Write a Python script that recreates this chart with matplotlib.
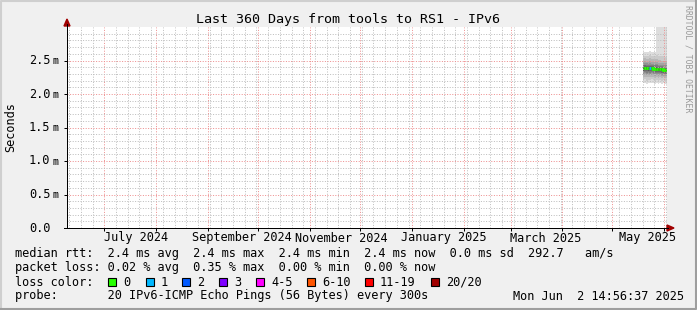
import matplotlib
matplotlib.use("Agg")
import matplotlib.pyplot as plt
import matplotlib.dates as mdates
import matplotlib.transforms as mtransforms
from matplotlib.lines import Line2D
from matplotlib.patches import Polygon, Rectangle
from datetime import datetime

W, H = 697, 310
plt.rcParams['font.family'] = ['DejaVu Sans Mono']

# time window of the graph
t_start = datetime(2024, 6, 8, 16, 0)
t_end = datetime(2025, 6, 2, 14, 56, 37)

# one row of 20 sorted pings (ms) per day
sample_days = ['2025-05-19', '2025-05-20', '2025-05-21', '2025-05-22', '2025-05-23',
               '2025-05-24', '2025-05-25', '2025-05-26', '2025-05-27', '2025-05-28',
               '2025-05-29', '2025-05-30', '2025-05-31', '2025-06-01', '2025-06-02']
pings = [
    [2.16, 2.21, 2.25, 2.28, 2.30, 2.32, 2.34, 2.35, 2.37, 2.38, 2.39, 2.40, 2.41, 2.42, 2.44, 2.46, 2.49, 2.53, 2.58, 2.63],
    [2.17, 2.22, 2.26, 2.29, 2.31, 2.33, 2.35, 2.36, 2.37, 2.38, 2.39, 2.40, 2.41, 2.43, 2.44, 2.46, 2.49, 2.53, 2.57, 2.62],
    [2.15, 2.20, 2.25, 2.28, 2.30, 2.32, 2.34, 2.36, 2.37, 2.38, 2.39, 2.40, 2.41, 2.42, 2.44, 2.46, 2.48, 2.52, 2.57, 2.63],
    [2.17, 2.21, 2.25, 2.28, 2.31, 2.33, 2.34, 2.35, 2.37, 2.38, 2.39, 2.40, 2.41, 2.42, 2.43, 2.45, 2.48, 2.52, 2.56, 2.62],
    [2.16, 2.21, 2.25, 2.28, 2.30, 2.32, 2.34, 2.36, 2.37, 2.38, 2.39, 2.40, 2.41, 2.42, 2.44, 2.46, 2.49, 2.53, 2.58, 2.64],
    [2.17, 2.22, 2.26, 2.28, 2.31, 2.33, 2.34, 2.36, 2.37, 2.38, 2.39, 2.40, 2.41, 2.42, 2.43, 2.45, 2.48, 2.52, 2.57, 2.62],
    [2.16, 2.21, 2.25, 2.28, 2.30, 2.32, 2.34, 2.35, 2.36, 2.37, 2.38, 2.39, 2.40, 2.42, 2.43, 2.45, 2.48, 2.52, 2.57, 2.63],
    [2.15, 2.20, 2.24, 2.27, 2.30, 2.32, 2.33, 2.35, 2.36, 2.37, 2.38, 2.39, 2.40, 2.41, 2.43, 2.45, 2.48, 2.52, 2.56, 2.62],
    [2.16, 2.21, 2.25, 2.28, 2.30, 2.32, 2.33, 2.35, 2.36, 2.37, 2.38, 2.39, 2.40, 2.41, 2.43, 2.45, 2.48, 2.52, 2.58, 3.35],
    [2.15, 2.20, 2.24, 2.27, 2.30, 2.31, 2.33, 2.34, 2.35, 2.36, 2.37, 2.38, 2.39, 2.41, 2.42, 2.44, 2.47, 2.51, 2.57, 3.42],
    [2.16, 2.21, 2.25, 2.28, 2.30, 2.31, 2.33, 2.34, 2.35, 2.36, 2.37, 2.38, 2.39, 2.40, 2.42, 2.44, 2.47, 2.51, 2.57, 3.30],
    [2.15, 2.20, 2.24, 2.27, 2.29, 2.31, 2.32, 2.34, 2.35, 2.36, 2.37, 2.38, 2.39, 2.40, 2.42, 2.44, 2.46, 2.50, 2.56, 3.38],
    [2.16, 2.21, 2.25, 2.27, 2.29, 2.31, 2.32, 2.33, 2.34, 2.35, 2.36, 2.37, 2.38, 2.40, 2.41, 2.43, 2.46, 2.50, 2.56, 3.45],
    [2.15, 2.20, 2.24, 2.27, 2.29, 2.30, 2.32, 2.33, 2.34, 2.35, 2.36, 2.37, 2.38, 2.39, 2.41, 2.43, 2.46, 2.50, 2.55, 3.31],
    [2.15, 2.20, 2.24, 2.27, 2.29, 2.30, 2.32, 2.33, 2.34, 2.35, 2.36, 2.37, 2.38, 2.39, 2.41, 2.43, 2.46, 2.50, 2.55, 3.36],
]
median_ms = [2.39, 2.39, 2.39, 2.39, 2.39, 2.39, 2.38, 2.38, 2.38, 2.37, 2.37, 2.37, 2.36, 2.36, 2.36]
loss_cnt = [0, 0, 0, 0, 1, 0, 0, 0, 0, 0, 0, 0, 0, 0, 0]

loss_labels = ['0', '1', '2', '3', '4-5', '6-10', '11-19', '20/20']
loss_colors = ['#26ff00', '#00b8ff', '#0059ff', '#7e00ff', '#ff00ff', '#ff5500', '#ff0000', '#a10000']

y_ticks = [0.0, 0.5, 1.0, 1.5, 2.0, 2.5]
y_tick_nums = ['0.0', '0.5', '1.0', '1.5', '2.0', '2.5']
y_tick_units = ['', 'm', 'm', 'm', 'm', 'm']
month_labels = ['July 2024', 'September 2024', 'November 2024', 'January 2025', 'March 2025', 'May 2025']
month_label_dates = ['2024-07-20', '2024-09-21', '2024-11-20', '2025-01-20', '2025-03-22', '2025-05-22']

title = 'Last 360 Days from tools to RS1 - IPv6'
rtt_line = 'median rtt:  2.4 ms avg  2.4 ms max  2.4 ms min  2.4 ms now  0.0 ms sd  292.7   am/s'
loss_line = 'packet loss: 0.02 % avg  0.35 % max  0.00 % min  0.00 % now'
probe_line = 'probe:       20 IPv6-ICMP Echo Pings (56 Bytes) every 300s'
stamp = 'Mon Jun  2 14:56:37 2025'


def fx(px):
    return px / W


def fy(py):
    return 1 - py / H


fig = plt.figure(figsize=(W / 100, H / 100), dpi=100)
fig.patch.set_facecolor('#f0f0f0')

ax = fig.add_axes([fx(67), fy(228), 600 / W, 201 / H])
ax.set_facecolor('white')
ax.set_xlim(t_start, t_end)
ax.set_ylim(0, 3.0)

# grid, light dotted lines
ax.xaxis.set_major_locator(mdates.MonthLocator())
ax.xaxis.set_minor_locator(mdates.WeekdayLocator(byweekday=mdates.MO))
ax.set_yticks(y_ticks)
ax.set_yticks([v / 10 for v in range(0, 30)], minor=True)
ax.set_axisbelow('line')
ax.grid(which='minor', color='#bebebe', linestyle=(0, (1, 1.6)), linewidth=0.72)
ax.grid(which='major', color='#ee9090', linestyle=(0, (1, 1.6)), linewidth=0.72)
ax.tick_params(which='minor', length=0)
ax.tick_params(which='major', direction='out', length=2, width=0.72, color='black',
               labelbottom=False, labelleft=False)
for s in ['top', 'right']:
    ax.spines[s].set_visible(False)
for s in ['left', 'bottom']:
    ax.spines[s].set_linewidth(0.72)

# smoke
days = [datetime.fromisoformat(d) for d in sample_days] + [t_end]
n = len(pings[0])
half = n // 2
for i in range(half):
    g = int(190 / half * (half - 1 - i)) + 50
    lo = [row[i] for row in pings]
    hi = [row[n - 1 - i] for row in pings]
    ax.fill_between(days, lo + [lo[-1]], hi + [hi[-1]], step='post',
                    color='#%02x%02x%02x' % (g, g, g), linewidth=0, zorder=1)

# median line coloured by loss
for k in range(len(median_ms)):
    c = loss_colors[loss_cnt[k]]
    x0, x1 = days[k], days[k + 1]
    ax.plot([x0, x1], [median_ms[k], median_ms[k]], color=c, linewidth=2,
            solid_capstyle='butt', zorder=3)
    if k + 1 < len(median_ms):
        ax.plot([x1, x1], [median_ms[k], median_ms[k + 1]], color=c, linewidth=2, zorder=3)

# axis extensions and arrows
fig.add_artist(Line2D([fx(67), fx(67)], [fy(228), fy(24)], color='black', linewidth=0.72))
fig.add_artist(Line2D([fx(64), fx(668)], [fy(228), fy(228)], color='black', linewidth=0.72))
fig.add_artist(Polygon([[fx(64), fy(26)], [fx(70), fy(26)], [fx(67), fy(19)]],
                       closed=True, color='#a00000'))
fig.add_artist(Polygon([[fx(667), fy(225)], [fx(667), fy(231)], [fx(674), fy(228)]],
                       closed=True, color='#a00000'))

# tick labels
fs = 8.6
ytrans = mtransforms.blended_transform_factory(fig.transFigure, ax.transData)
for v, num, unit in zip(y_ticks, y_tick_nums, y_tick_units):
    ax.text(fx(29), v, num, transform=ytrans, ha='left', va='center', fontsize=fs)
    if unit:
        ax.text(fx(52.5), v - 0.01, unit, transform=ytrans, ha='left', va='center', fontsize=7.2)
xtrans = mtransforms.blended_transform_factory(ax.transData, fig.transFigure)
for d, lab in zip(month_label_dates, month_labels):
    ax.text(datetime.fromisoformat(d), fy(238), lab, transform=xtrans,
            ha='center', va='center', fontsize=fs)

fig.text(fx(10.5), fy(127.5), 'Seconds', rotation=90, ha='center', va='center', fontsize=fs)
fig.text(fx(347.5), fy(19), title, ha='center', va='center', fontsize=9.6)
fig.text(fx(688), fy(5), 'RRDTOOL / TOBI OETIKER', rotation=270, ha='center', va='top',
         fontsize=5.9, color='#999999')

# legend
fig.text(fx(15), fy(254), rtt_line, ha='left', va='center', fontsize=fs)
fig.text(fx(15), fy(268), loss_line, ha='left', va='center', fontsize=fs)
fig.text(fx(15), fy(282), 'loss color:', ha='left', va='center', fontsize=fs)
fig.text(fx(15), fy(296), probe_line, ha='left', va='center', fontsize=fs)
fig.text(fx(513), fy(296), stamp, ha='left', va='center', fontsize=fs)

box_x = [108, 146, 182, 219, 256, 307, 365, 431]
for bx, lab, col in zip(box_x, loss_labels, loss_colors):
    fig.add_artist(Rectangle((fx(bx), fy(286)), 8 / W, 8 / H, facecolor=col,
                             edgecolor='black', linewidth=0.8))
    fig.text(fx(bx + 15), fy(282), lab, ha='left', va='center', fontsize=fs)

# frame
fig.add_artist(Line2D([fx(1), fx(1), fx(696)], [fy(309), fy(1), fy(1)], color='#cfcfcf', linewidth=1.5))
fig.add_artist(Line2D([fx(1), fx(696), fx(696)], [fy(309), fy(309), fy(1)], color='#9e9e9e', linewidth=1.5))

fig.savefig('out.png', dpi=100, facecolor=fig.get_facecolor())
